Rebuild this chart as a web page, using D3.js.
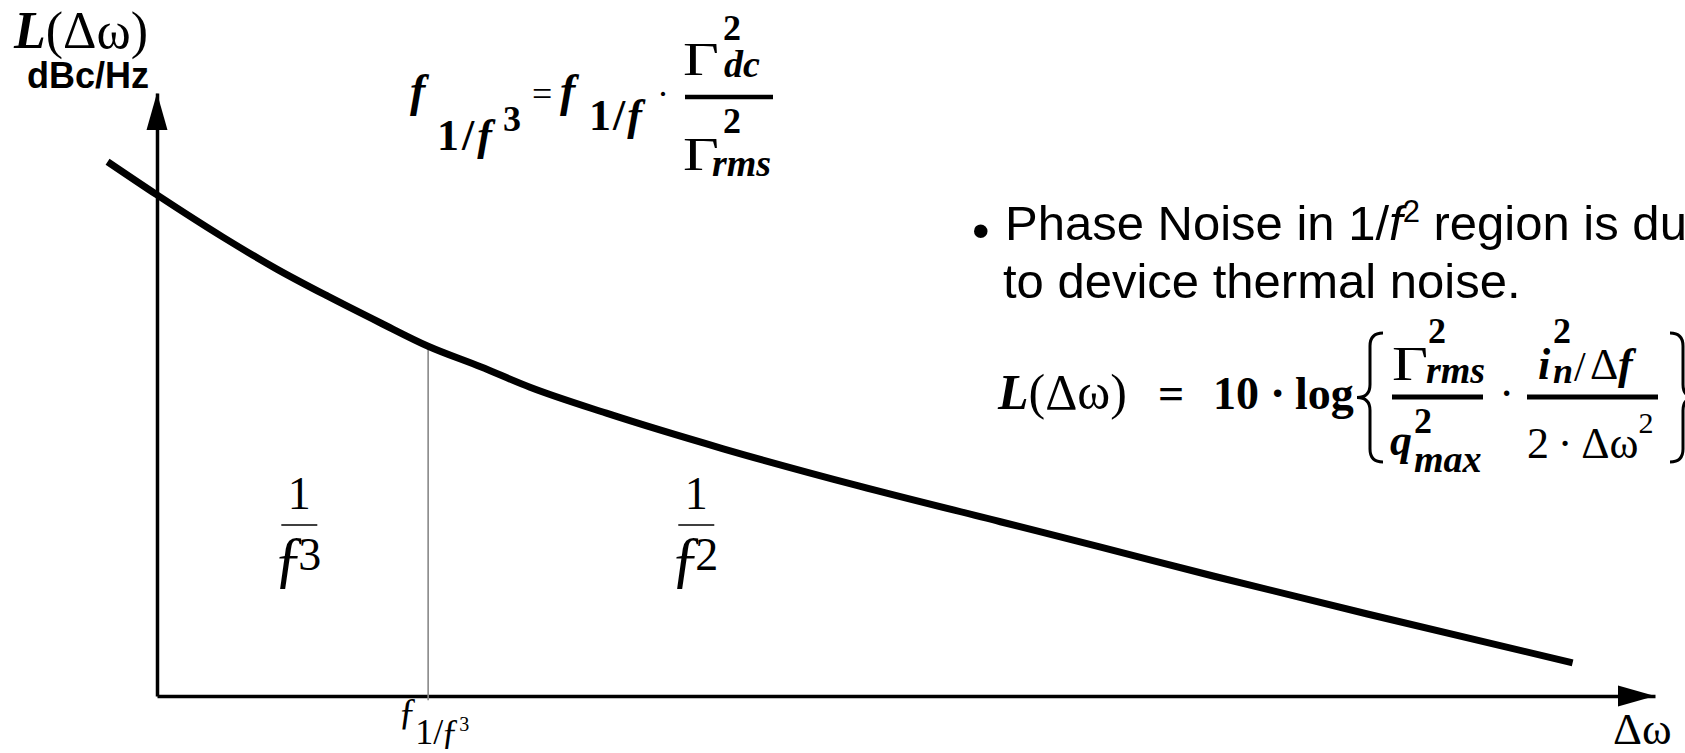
<!DOCTYPE html>
<html>
<head>
<meta charset="utf-8">
<script src="https://cdn.jsdelivr.net/npm/d3@7"></script>
<style>
  html, body { margin: 0; padding: 0; background: #fff; overflow: hidden; }
</style>
</head>
<body>
<div id="chart"></div>
<script>
// Phase noise L(Δω) versus offset frequency Δω (relative units):
// steep 1/f³ region at small offsets, 1/f² region beyond the corner f_{1/f³}.
const offset = [-3.3, 0, 4.4, 8.0, 11.4, 14.9, 18.1, 21.6, 24.9, 30.0, 37.8, 46.9, 56.3, 63.0, 70.5, 80.8, 94.5];
const noise  = [88.6, 83.1, 76.1, 70.8, 66.3, 61.9, 58.0, 54.6, 51.2, 46.9, 41.0, 34.8, 28.9, 24.7, 19.9, 13.6, 5.5];

// corner between the two regions
const cornerOffset = 18.1;
const cornerNoise = 58.0;

// region labels 1/f^n, centred at these offsets
const regionExponents = ["3", "2"];
const regionCenters = [9.5, 36.0];

const W = 1685, H = 753;
const serif = "'Liberation Serif','Times New Roman',serif";
const sans = "'Liberation Sans',Arial,sans-serif";
const fHook = "\u0192";   // serif italic-style f with descender

const svg = d3.select("#chart").append("svg")
  .attr("width", W).attr("height", H)
  .style("display", "block").style("background", "#fff");

const x = d3.scaleLinear().domain([0, 100]).range([157, 1655]);
const y = d3.scaleLinear().domain([0, 100]).range([696, 93]);

// ---- axes (no ticks, arrow heads at the ends) ----
const xAxis = svg.append("g").attr("transform", `translate(0,${y(0)})`)
  .call(d3.axisBottom(x).ticks(0).tickSizeOuter(0));
const yAxis = svg.append("g").attr("transform", `translate(${x(0)},0)`)
  .call(d3.axisLeft(y).ticks(0).tickSizeOuter(0));
[xAxis, yAxis].forEach(g => g.select(".domain").attr("stroke", "#000").attr("stroke-width", 3.5));

const xEnd = x(100), yTop = y(100);
svg.append("path")
  .attr("d", `M${xEnd},${y(0)} L${xEnd - 37},${y(0) - 10.5} L${xEnd - 37},${y(0) + 10.5} Z`)
  .attr("fill", "#000");
svg.append("path")
  .attr("d", `M${x(0)},${yTop} L${x(0) - 10.5},${yTop + 37} L${x(0) + 10.5},${yTop + 37} Z`)
  .attr("fill", "#000");

// ---- corner marker ----
svg.append("line")
  .attr("x1", x(cornerOffset)).attr("x2", x(cornerOffset))
  .attr("y1", y(cornerNoise)).attr("y2", y(-0.7))
  .attr("stroke", "#888").attr("stroke-width", 1.6);

// ---- noise curve ----
const pts = offset.map((o, i) => [o, noise[i]]);
svg.append("path")
  .datum(pts)
  .attr("d", d3.line().x(d => x(d[0])).y(d => y(d[1])).curve(d3.curveMonotoneX))
  .attr("fill", "none").attr("stroke", "#000")
  .attr("stroke-width", 7).attr("stroke-linecap", "butt").attr("stroke-linejoin", "round");

// ---- text helpers ----
function put(px, py, str, size, style = "", family = serif, anchor = "start") {
  return svg.append("text")
    .attr("x", px).attr("y", py)
    .attr("font-family", family).attr("font-size", size)
    .attr("font-weight", style.includes("b") ? "bold" : "normal")
    .attr("font-style", style.includes("i") ? "italic" : "normal")
    .attr("text-anchor", anchor).attr("fill", "#000")
    .text(str);
}
// horizontally widened glyph (Γ)
function wide(px, py, str, size, sx) {
  return svg.append("text")
    .attr("transform", `translate(${px},${py}) scale(${sx},1)`)
    .attr("font-family", serif).attr("font-size", size).attr("fill", "#000")
    .text(str);
}
function rich(px, py, size, spans, family = serif) {
  const t = svg.append("text").attr("x", px).attr("y", py)
    .attr("font-family", family).attr("font-size", size).attr("fill", "#000");
  spans.forEach(([s, style, sz, dy, ls]) => {
    const ts = t.append("tspan").text(s)
      .attr("font-weight", style.includes("b") ? "bold" : "normal")
      .attr("font-style", style.includes("i") ? "italic" : "normal");
    if (sz) ts.attr("font-size", sz);
    if (dy) ts.attr("dy", dy);
    if (ls) ts.attr("letter-spacing", ls);
  });
  return t;
}
function bar(x1, x2, yy, th) {
  svg.append("rect").attr("x", x1).attr("y", yy - th / 2)
    .attr("width", x2 - x1).attr("height", th).attr("fill", "#000");
}
function brace(xTip, xPoint, top, bot, th) {
  const xm = (xTip + xPoint) / 2, mid = (top + bot) / 2, r = Math.abs(xTip - xPoint) / 2;
  const p = d3.path();
  p.moveTo(xTip, top);
  p.quadraticCurveTo(xm, top, xm, top + r);
  p.lineTo(xm, mid - r);
  p.quadraticCurveTo(xm, mid, xPoint, mid);
  p.quadraticCurveTo(xm, mid, xm, mid + r);
  p.lineTo(xm, bot - r);
  p.quadraticCurveTo(xm, bot, xTip, bot);
  svg.append("path").attr("d", p.toString())
    .attr("fill", "none").attr("stroke", "#000").attr("stroke-width", th);
}

// ---- y-axis title ----
rich(14, 48, 52, [["L", "bi"], ["(Δω)", ""]]);
put(27, 88, "dBc/Hz", 36, "b", sans);

// ---- x-axis title ----
put(1613, 744, "Δω", 45);

// ---- corner frequency formula ----
put(410, 106, "f", 46, "bi");
rich(437, 150, 44, [["1/", "b", null, null, 3], ["f", "bi"]]);
put(503, 131, "3", 36, "b");
put(532, 106, "=", 36);
put(560, 106, "f", 46, "bi");
rich(589, 130, 44, [["1/", "b", null, null, 2], ["f", "bi"]]);
put(657, 106, "·", 36);
bar(685, 773, 97, 4.5);
wide(683, 75, "Γ", 46, 1.35);
put(723, 40, "2", 36, "b");
put(724, 77, "dc", 38, "bi");
wide(683, 170, "Γ", 46, 1.35);
put(723, 133, "2", 36, "b");
put(712, 176, "rms", 38, "bi");

// ---- region labels ----
regionExponents.forEach((e, i) => {
  const cx = x(regionCenters[i]);
  put(cx, 509, "1", 46, "", serif, "middle");
  bar(cx - 18, cx + 18, 525, 1.5);
  put(cx - 26, 580, fHook, 64);
  put(cx - 1, 570, e, 46);
});

// ---- corner label under the axis ----
const cx0 = x(cornerOffset);
put(cx0 - 30, 724, fHook, 38);
put(cx0 - 13, 744, "1/", 36);
put(cx0 + 13, 744, fHook, 36);
put(cx0 + 31, 731, "3", 20);

// ---- bullet note ----
put(972, 248, "•", 50, "", sans);
rich(1005, 240, 49, [
  ["Phase Noise in 1/", ""], ["f", "i"], ["2", "", 31, -18], [" region is due", "", 49, 18]
], sans);
put(1003, 298, "to device thermal noise.", 49, "", sans);

// ---- thermal-noise phase noise formula ----
rich(998, 409, 50, [["L", "bi"], ["(Δω)", ""]]);
put(1158, 409, "=", 46, "b");
put(1213, 409, "10", 46, "b");
put(1270, 409, "·", 46, "b");
put(1295, 409, "log", 46, "b");
brace(1383, 1357, 333, 462, 3);
bar(1392, 1483, 397, 5);
wide(1392, 380, "Γ", 48, 1.3);
put(1428, 343, "2", 36, "b");
put(1426, 383, "rms", 38, "bi");
put(1390, 455, "q", 44, "bi");
put(1414, 433, "2", 36, "b");
put(1414, 472, "max", 38, "bi");
put(1499, 409, "·", 46);
bar(1527, 1658, 397, 5);
put(1538, 379, "i", 44, "bi");
put(1553, 343, "2", 36, "b");
put(1553, 383, "n", 36, "bi");
put(1574, 381, "/", 42);
put(1590, 379, "Δ", 44);
put(1618, 379, "f", 44, "bi");
rich(1527, 458, 44, [["2\u2009·\u2009Δω", ""], ["2", "", 30, -25]]);
brace(1670, 1696, 333, 462, 3);
</script>
</body>
</html>
